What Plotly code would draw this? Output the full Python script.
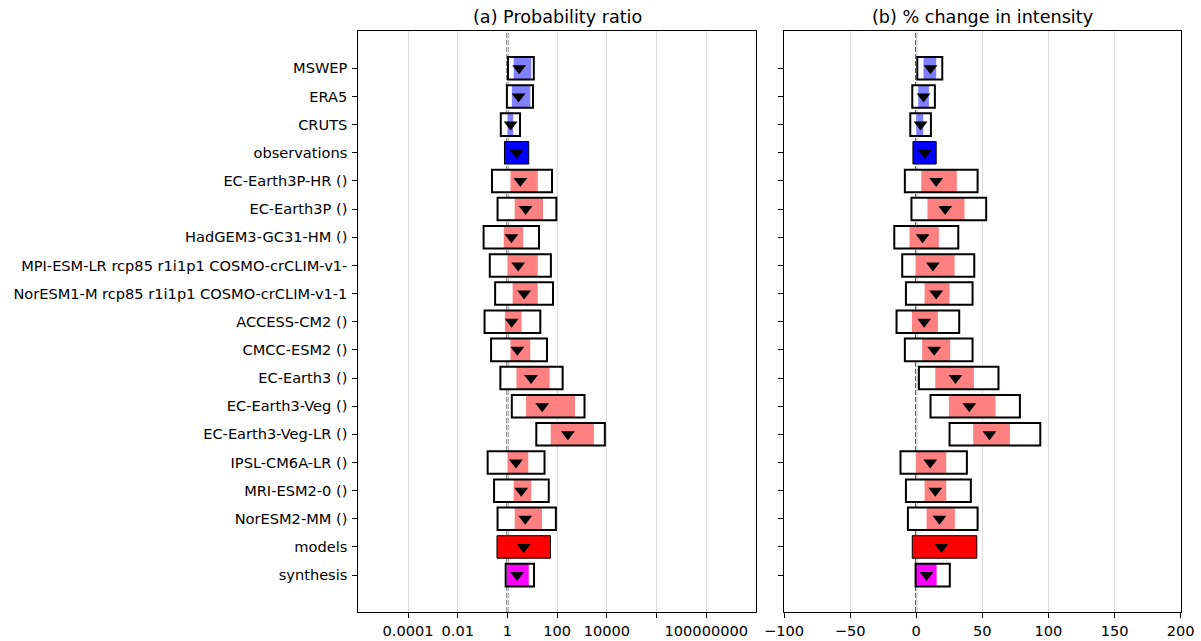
import plotly.graph_objects as go

labels = ["MSWEP", "ERA5", "CRUTS", "observations", "EC-Earth3P-HR ()", "EC-Earth3P ()",
          "HadGEM3-GC31-HM ()", "MPI-ESM-LR rcp85 r1i1p1 COSMO-crCLIM-v1-",
          "NorESM1-M rcp85 r1i1p1 COSMO-crCLIM-v1-1", "ACCESS-CM2 ()", "CMCC-ESM2 ()",
          "EC-Earth3 ()", "EC-Earth3-Veg ()", "EC-Earth3-Veg-LR ()", "IPSL-CM6A-LR ()",
          "MRI-ESM2-0 ()", "NorESM2-MM ()", "models", "synthesis"]

fill_colors = ["#8080ff", "#8080ff", "#8080ff", "#0000ff",
               "#ff8080", "#ff8080", "#ff8080", "#ff8080", "#ff8080", "#ff8080", "#ff8080",
               "#ff8080", "#ff8080", "#ff8080", "#ff8080", "#ff8080", "#ff8080",
               "#ff0000", "#ff00ff"]
fill_edge = [0, 0, 0, 1, 0, 0, 0, 0, 0, 0, 0, 0, 0, 0, 0, 0, 0, 1, 0]

# (a) Probability ratio
pr_best = [2.95, 2.8, 1.35, 2.3, 3.3, 5.4, 1.45, 2.7, 4.7, 1.48, 2.5, 8.9, 25, 270, 2.2, 3.6, 5.2, 4.5, 2.45]
pr_fill_lo = [1.78, 1.51, 1.0, 0.76, 1.32, 1.95, 0.71, 1.0, 1.62, 0.79, 1.32, 2.3, 5.6, 55, 1.0, 1.78, 1.95, 0.38, 0.93]
pr_fill_hi = [9.1, 8.3, 1.7, 7.2, 16.6, 27, 4.3, 16.6, 16.6, 3.7, 8.3, 50, 525, 3000, 6.9, 9.1, 24.5, 54, 7.2]
pr_box_lo = [1.05, 0.95, 0.54, None, 0.24, 0.40, 0.11, 0.195, 0.32, 0.12, 0.22, 0.52, 1.5, 14.5, 0.16, 0.29, 0.40, None, 0.85]
pr_box_hi = [11.5, 10.7, 3.2, None, 62, 93, 18.6, 56, 68, 21, 39, 166, 1260, 8300, 31, 46, 89, None, 11.7]

# (b) % change in intensity
di_best = [10.8, 5.5, 3.3, 6.5, 15.1, 21.9, 4.8, 12.6, 15.1, 6.0, 13.6, 29.7, 40.1, 55.4, 10.6, 14.4, 17.6, 19.1, 7.8]
di_fill_lo = [5.5, 1.5, 0.0, -2.5, 3.8, 8.5, -5.1, -0.5, 6.3, -3.3, 4.5, 14.4, 24.7, 43.1, -0.3, 6.3, 7.8, -3.0, -0.3]
di_fill_hi = [15.1, 9.6, 5.3, 15.1, 30.7, 36.5, 17.1, 29.0, 25.2, 16.4, 25.7, 43.6, 60.0, 70.8, 22.7, 22.7, 29.2, 45.8, 15.4]
di_box_lo = [0.8, -3.0, -4.5, None, -8.6, -3.6, -16.6, -10.6, -7.8, -14.9, -8.6, 2.0, 10.8, 25.2, -11.9, -7.8, -6.3, None, -0.5]
di_box_hi = [19.7, 14.1, 11.1, None, 46.4, 52.9, 31.8, 43.9, 42.6, 32.5, 42.6, 62.2, 78.4, 93.8, 38.3, 41.3, 46.4, None, 25.4]

pr_tickvals = [1e-4, 1e-2, 1, 1e2, 1e4, 1e6, 1e8]
pr_ticktext = ["0.0001", "0.01", "1", "100", "10000", "", "100000000"]
di_tickvals = [-100, -50, 0, 50, 100, 150, 200]
di_ticktext = ["\u2212100", "\u221250", "0", "50", "100", "150", "200"]

rows = list(range(len(labels)))
FONT = "DejaVu Sans"
W, H = 1201, 641
TICK_SIZE = 14.6
TITLE_SIZE = 17.6


def span(lo, hi):
    return [None if (a is None or b is None) else b - a for a, b in zip(lo, hi)]


fig = go.Figure()
for xa, ya, blo, bhi, flo, fhi, best in [
        ("x", "y", pr_box_lo, pr_box_hi, pr_fill_lo, pr_fill_hi, pr_best),
        ("x2", "y2", di_box_lo, di_box_hi, di_fill_lo, di_fill_hi, di_best)]:
    # white background of outer boxes
    fig.add_trace(go.Bar(y=rows, x=span(blo, bhi), base=blo, orientation="h", width=0.8,
                         marker=dict(color="white", line=dict(width=0)),
                         xaxis=xa, yaxis=ya, showlegend=False, hoverinfo="skip"))
    # coloured inner bars
    fig.add_trace(go.Bar(y=rows, x=span(flo, fhi), base=flo, orientation="h", width=0.8,
                         marker=dict(color=fill_colors,
                                     line=dict(color="black", width=fill_edge)),
                         xaxis=xa, yaxis=ya, showlegend=False, hoverinfo="skip"))
    # outer box outlines
    fig.add_trace(go.Bar(y=rows, x=span(blo, bhi), base=blo, orientation="h", width=0.8,
                         marker=dict(color="rgba(0,0,0,0)", line=dict(color="black", width=2)),
                         xaxis=xa, yaxis=ya, showlegend=False, hoverinfo="skip"))
    # best estimates
    fig.add_trace(go.Scatter(y=rows, x=best, mode="markers",
                             marker=dict(symbol="triangle-down", size=12, color="black"),
                             xaxis=xa, yaxis=ya, showlegend=False, hoverinfo="skip"))

dom1 = [358.3 / W, 756 / W]
dom2 = [784 / W, 1180.7 / W]
ydom = [29 / H, 610 / H]
yrange = [19.31, -1.325]

common_x = dict(showline=True, mirror=True, linecolor="black", linewidth=1,
                ticks="outside", ticklen=5, tickcolor="black", tickwidth=1,
                showgrid=True, gridcolor="#dedede", gridwidth=1, zeroline=False,
                tickfont=dict(family=FONT, size=TICK_SIZE, color="black"), automargin=False)
common_y = dict(showline=True, mirror=True, linecolor="black", linewidth=1,
                ticks="outside", ticklen=5, tickcolor="black", tickwidth=1,
                showgrid=False, zeroline=False, range=yrange, tickmode="array",
                tickvals=rows, tickfont=dict(family=FONT, size=TICK_SIZE, color="black"),
                automargin=False)

fig.update_layout(
    width=W, height=H, margin=dict(l=0, r=0, t=0, b=0),
    paper_bgcolor="white", plot_bgcolor="white", barmode="overlay",
    font=dict(family=FONT, size=TICK_SIZE, color="black"),
    xaxis=dict(domain=dom1, anchor="y", type="log", range=[-6, 10], tickmode="array",
               tickvals=pr_tickvals, ticktext=pr_ticktext, **common_x),
    yaxis=dict(domain=ydom, anchor="x", ticktext=labels, ticklabelstandoff=2, **common_y),
    xaxis2=dict(domain=dom2, anchor="y2", range=[-100, 200], tickmode="array",
                tickvals=di_tickvals, ticktext=di_ticktext, **common_x),
    yaxis2=dict(domain=ydom, anchor="x2", showticklabels=False, **common_y),
    shapes=[
        dict(type="line", xref="x", yref="y domain", x0=1, x1=1, y0=0, y1=1, layer="below",
             line=dict(color="#111111", width=1.8, dash="5px,2px")),
        dict(type="line", xref="x2", yref="y2 domain", x0=0, x1=0, y0=0, y1=1, layer="below",
             line=dict(color="#111111", width=1.8, dash="5px,2px")),
    ],
    annotations=[
        dict(text="(a) Probability ratio", xref="paper", yref="paper",
             x=(dom1[0] + dom1[1]) / 2, y=(H - 29) / H, xanchor="center", yanchor="bottom",
             showarrow=False, font=dict(family=FONT, size=TITLE_SIZE, color="black")),
        dict(text="(b) % change in intensity", xref="paper", yref="paper",
             x=(dom2[0] + dom2[1]) / 2, y=(H - 29) / H, xanchor="center", yanchor="bottom",
             showarrow=False, font=dict(family=FONT, size=TITLE_SIZE, color="black")),
    ],
)

fig.write_html("out.html")
